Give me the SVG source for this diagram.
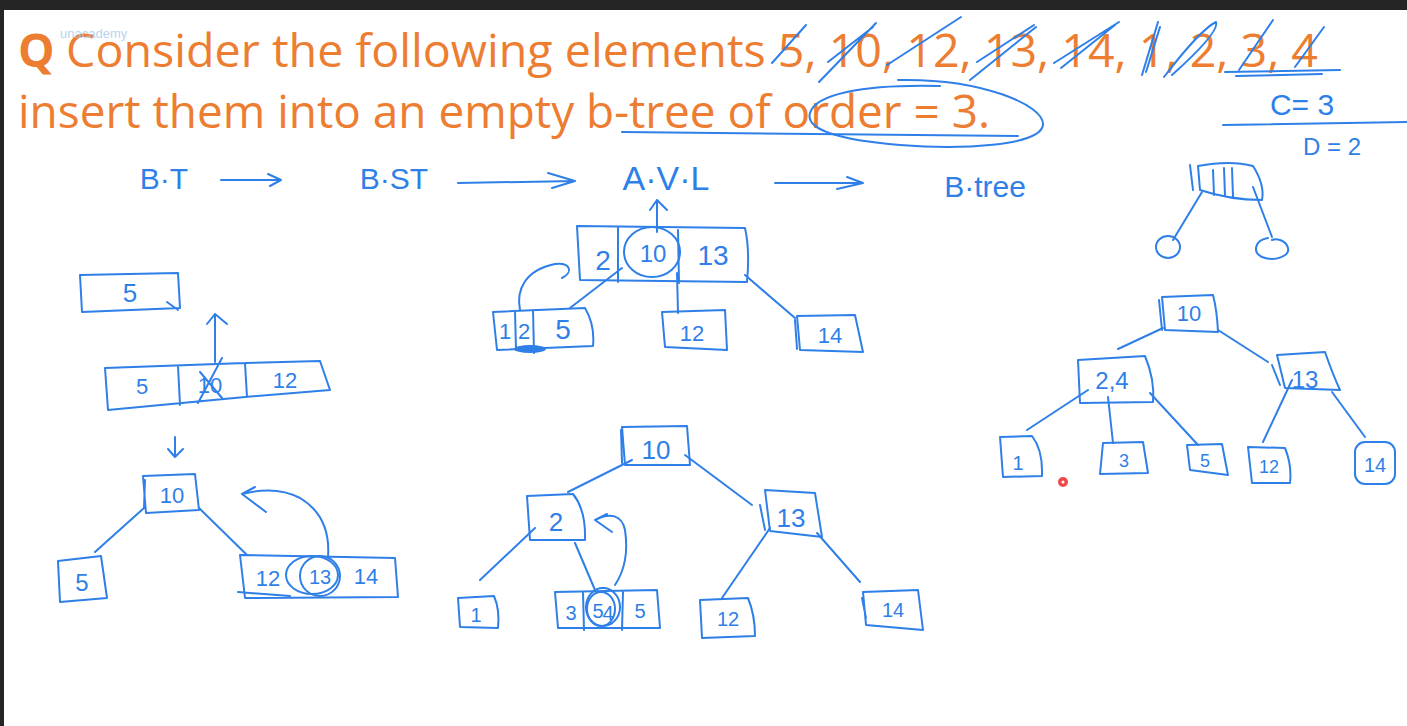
<svg xmlns="http://www.w3.org/2000/svg" width="1407" height="726" viewBox="0 0 1407 726">
<style>
.ink{fill:none;stroke:#2f7fe8;stroke-width:2;stroke-linecap:round;stroke-linejoin:round}
.hw{font-family:"Liberation Sans",Arial,sans-serif;fill:#2f7fe8;text-anchor:middle}
.ttl{font-family:"Open Sans","Liberation Sans",sans-serif;fill:#ED7D31;font-size:46px}
</style>
<rect x="0" y="0" width="1407" height="726" fill="#ffffff"/>
<rect x="0" y="0" width="1407" height="10" fill="#252526"/>
<rect x="0" y="0" width="4" height="726" fill="#252526"/>

<g id="title">
<text class="ttl" x="18" y="67" font-weight="bold">Q</text>
<text class="ttl" x="66" y="67" textLength="1252" lengthAdjust="spacingAndGlyphs">Consider the following elements 5, 10, 12, 13, 14, 1, 2, 3, 4</text>
<text class="ttl" x="18" y="128" textLength="972" lengthAdjust="spacingAndGlyphs">insert them into an empty b-tree of order = 3.</text>
<text x="60" y="38" font-family="Liberation Sans,sans-serif" font-size="13" fill="#a9c9ea" opacity="0.8">unacademy</text>
</g>

<g id="annotations">
<path class="ink" d="M772,63 L806,25 M819,82 L876,23 M828,62 L873,27 M887,65 L961,17 M970,80 L1036,27 M977,62 L1034,25 M1054,63 L1119,22 M1061,68 L1115,25 M1142,75 L1158,22 M1146,72 L1160,27 M1164,77 Q1200,30 1216,22 Q1220,32 1172,75 M1239,70 L1273,20 M1295,67 L1324,27"/>
<path class="ink" d="M1225,72 L1340,70 M1236,76 L1322,74"/>
<path class="ink" d="M898,80 C980,78 1045,105 1043,125 C1040,146 960,150 900,145 C840,140 805,130 810,113 C815,95 860,84 940,86"/>
<path class="ink" d="M622,132 L1018,136"/>
<text class="hw" x="1302" y="115" font-size="30">C= 3</text>
<path class="ink" d="M1223,125 L1407,122"/>
<text class="hw" x="1332" y="155" font-size="24">D = 2</text>
<text class="hw" x="164" y="189" font-size="30">B·T</text>
<text class="hw" x="394" y="189" font-size="30">B·ST</text>
<text class="hw" x="666" y="190" font-size="34">A·V·L</text>
<text class="hw" x="985" y="197" font-size="30">B·tree</text>
</g>

<g id="connectors">
<path class="ink" d="M221,180 L281,180 M268,174 L281,180 L270,186"/>
<path class="ink" d="M458,183 L575,181 M548,173 L575,181 L552,188"/>
<path class="ink" d="M775,183 L863,183 M847,177 L863,183 L837,189"/>
<path class="ink" d="M1202,192 L1173,240 M1253,187 L1272,237"/>
<path class="ink" d="M215,362 L215,314 M207,324 L215,314 L227,324"/>
<path class="ink" d="M175,437 L175,457 M168,449 L175,457 L183,449"/>
<path class="ink" d="M144,508 L95,552 M199,508 L247,555"/>
<path class="ink" d="M328,557 C330,530 320,510 300,498 C285,490 265,488 242,494 M255,487 L242,494 L266,512"/>
<path class="ink" d="M657,232 L657,200 M650,210 L657,200 L667,210"/>
<path class="ink" d="M622,268 L570,308 M677,273 L678,313 M745,275 L795,318"/>
<path class="ink" d="M520,310 C516,290 525,270 555,264 C570,262 574,272 562,278"/>
<path class="ink" d="M632,460 L568,492 M685,455 L752,505"/>
<path class="ink" d="M535,528 L480,580 M575,543 L595,590 M770,528 L722,598 M817,533 L860,582"/>
<path class="ink" d="M615,585 C625,570 628,550 625,530 C622,515 610,512 595,520 M607,514 L595,520 L612,532"/>
<path class="ink" d="M1163,328 L1118,349 M1218,330 L1268,362"/>
<path class="ink" d="M1088,390 L1027,430 M1108,397 L1113,443 M1150,393 L1198,445 M1292,380 L1263,442 M1332,392 L1365,437"/>
</g>

<g id="node-top-right">
<path class="ink" d="M1190,165 L1193,190 M1198,166 Q1230,160 1253,166 Q1265,185 1262,200 Q1230,200 1200,190 Z M1213,170 L1214,195 M1224,168 L1225,196 M1232,168 L1233,197"/>
<ellipse class="ink" cx="1168" cy="247" rx="12" ry="11"/>
<path class="ink" d="M1268,238 C1255,240 1252,252 1262,257 C1275,262 1290,256 1288,248 C1286,240 1276,238 1272,240"/>
</g>

<g id="node-5-single">
<path class="ink" d="M80,275 L178,273 L180,308 L82,312 Z M167,302 L178,310"/>
<text class="hw" x="130" y="302" font-size="26">5</text>
</g>

<g id="node-5-10-12">
<path class="ink" d="M105,368 L245,363 L320,361 L330,390 L245,397 L108,410 Z M178,366 L180,405 M245,363 L247,397 M198,403 L222,358 M200,372 L222,398"/>
<text class="hw" x="142" y="394" font-size="22">5</text>
<text class="hw" x="210" y="393" font-size="22">10</text>
<text class="hw" x="285" y="388" font-size="22">12</text>
</g>

<g id="t1-root-10">
<path class="ink" d="M143,476 L195,474 L199,510 L146,513 Z M145,480 L144,508"/>
<text class="hw" x="172" y="503" font-size="22">10</text>
</g>
<g id="t1-leaf-5">
<path class="ink" d="M58,561 L101,556 L107,598 L60,602 Z"/>
<text class="hw" x="82" y="591" font-size="24">5</text>
</g>
<g id="t1-leaf-12-13-14">
<path class="ink" d="M240,555 L395,558 L398,597 L245,598 Z M238,592 L290,596"/>
<ellipse class="ink" cx="320" cy="576" rx="20" ry="20"/>
<ellipse class="ink" cx="312" cy="575" rx="26" ry="19"/>
<text class="hw" x="268" y="586" font-size="22">12</text>
<text class="hw" x="320" y="584" font-size="20">13</text>
<text class="hw" x="366" y="584" font-size="22">14</text>
</g>

<g id="t2-root">
<path class="ink" d="M577,226 L745,228 Q750,250 747,282 L580,280 Z M618,228 L618,282 M678,230 L679,283"/>
<ellipse class="ink" cx="652" cy="252" rx="28" ry="25"/>
<text class="hw" x="603" y="270" font-size="28">2</text>
<text class="hw" x="653" y="262" font-size="24">10</text>
<text class="hw" x="713" y="265" font-size="28">13</text>
</g>
<g id="t2-leaf-1-2-5">
<path class="ink" d="M493,312 L585,308 Q595,325 593,346 L497,350 Z M515,311 L516,350 M533,310 L534,353"/>
<ellipse cx="530" cy="349" rx="16" ry="4" fill="#2f7fe8"/>
<text class="hw" x="505" y="339" font-size="22">1</text>
<text class="hw" x="524" y="339" font-size="22">2</text>
<text class="hw" x="563" y="339" font-size="28">5</text>
</g>
<g id="t2-leaf-12">
<path class="ink" d="M662,312 L725,310 L727,350 L665,347 Z"/>
<text class="hw" x="692" y="341" font-size="22">12</text>
</g>
<g id="t2-leaf-14">
<path class="ink" d="M797,316 L855,315 L863,352 L800,350 Z M795,320 L797,349"/>
<text class="hw" x="830" y="343" font-size="22">14</text>
</g>

<g id="t3-root-10">
<path class="ink" d="M622,427 L687,426 L690,465 L625,465 Z M621,430 L622,463"/>
<text class="hw" x="656" y="459" font-size="26">10</text>
</g>
<g id="t3-node-2">
<path class="ink" d="M527,496 L573,494 Q586,510 585,540 L530,540 Z"/>
<text class="hw" x="556" y="531" font-size="26">2</text>
</g>
<g id="t3-node-13">
<path class="ink" d="M765,490 L815,493 L822,537 L770,531 Z M760,505 L765,530"/>
<text class="hw" x="791" y="527" font-size="26">13</text>
</g>
<g id="t3-leaf-1">
<path class="ink" d="M458,598 L494,596 Q500,610 498,628 L460,627 Z"/>
<text class="hw" x="476" y="622" font-size="20">1</text>
</g>
<g id="t3-leaf-3-4-5">
<path class="ink" d="M555,592 L657,590 L660,628 L558,628 Z M583,593 L584,630 M623,592 L622,630"/>
<ellipse class="ink" cx="603" cy="607" rx="17" ry="19"/>
<ellipse class="ink" cx="601" cy="609" rx="14" ry="17"/>
<text class="hw" x="571" y="620" font-size="20">3</text>
<text class="hw" x="598" y="618" font-size="20">5</text>
<text class="hw" x="608" y="620" font-size="20">4</text>
<text class="hw" x="640" y="618" font-size="20">5</text>
</g>
<g id="t3-leaf-12">
<path class="ink" d="M700,600 L748,598 Q755,615 755,636 L702,638 Z"/>
<text class="hw" x="728" y="626" font-size="20">12</text>
</g>
<g id="t3-leaf-14">
<path class="ink" d="M863,592 L918,590 L923,630 L866,625 Z M862,598 L866,618"/>
<text class="hw" x="893" y="617" font-size="20">14</text>
</g>

<g id="t4-root-10">
<path class="ink" d="M1162,297 L1213,295 Q1217,310 1218,332 L1165,330 Z M1159,300 L1162,330"/>
<text class="hw" x="1189" y="321" font-size="22">10</text>
</g>
<g id="t4-node-2-4">
<path class="ink" d="M1078,360 L1145,356 Q1155,380 1153,402 L1080,403 Z"/>
<text class="hw" x="1112" y="389" font-size="24">2,4</text>
</g>
<g id="t4-node-13">
<path class="ink" d="M1277,355 L1325,352 Q1333,375 1340,390 L1285,388 Z M1272,365 L1280,385"/>
<text class="hw" x="1305" y="388" font-size="24">13</text>
</g>
<g id="t4-leaf-1">
<path class="ink" d="M1000,437 L1032,436 Q1043,450 1042,476 L1003,477 Z"/>
<text class="hw" x="1018" y="470" font-size="20">1</text>
</g>
<g id="t4-leaf-3">
<path class="ink" d="M1103,443 L1143,442 L1148,473 L1100,474 Z"/>
<text class="hw" x="1124" y="467" font-size="18">3</text>
</g>
<g id="t4-leaf-5">
<path class="ink" d="M1187,445 L1222,444 Q1225,460 1228,475 L1190,470 Z"/>
<text class="hw" x="1205" y="467" font-size="18">5</text>
</g>
<g id="t4-leaf-12">
<path class="ink" d="M1248,447 L1285,448 Q1292,465 1290,483 L1252,483 Z"/>
<text class="hw" x="1269" y="473" font-size="18">12</text>
</g>
<g id="t4-leaf-14">
<rect class="ink" x="1355" y="442" width="40" height="42" rx="10"/>
<text class="hw" x="1375" y="472" font-size="20">14</text>
</g>
<circle cx="1063" cy="482" r="5" fill="#f04848"/>
<circle cx="1063" cy="482" r="1.5" fill="#ffffff"/>
</svg>
